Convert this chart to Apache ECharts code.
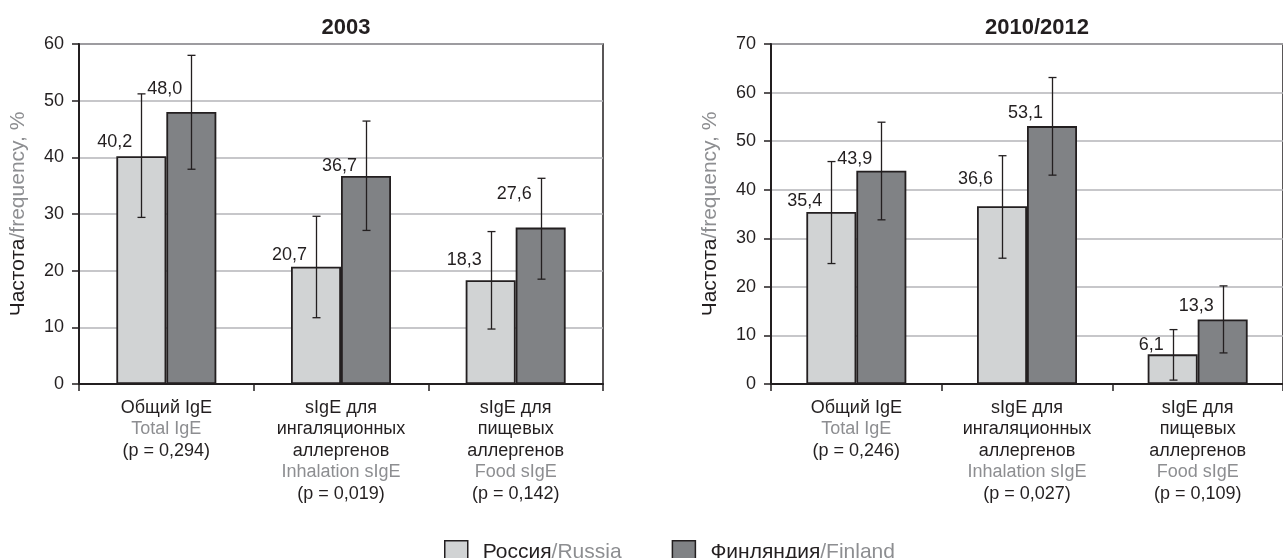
<!DOCTYPE html>
<html>
<head>
<meta charset="utf-8">
<script src="https://cdn.jsdelivr.net/npm/echarts@6/dist/echarts.min.js"></script>
<style>
  html, body { margin: 0; padding: 0; background: #ffffff; }
  #chart { width: 1283px; height: 558px; }
</style>
</head>
<body>
<div id="chart"></div>
<script>
// ---------------- DATA ----------------
const catRu = [['Общий IgE'], ['sIgE для', 'ингаляционных', 'аллергенов'], ['sIgE для', 'пищевых', 'аллергенов']];
const catEn = ['Total IgE', 'Inhalation sIgE', 'Food sIgE'];
const p2003 = ['0,294', '0,019', '0,142'];
const p2010 = ['0,246', '0,027', '0,109'];

const russia2003 = [40.2, 20.7, 18.3];
const finland2003 = [48.0, 36.7, 27.6];
const russia2003Low = [29.4, 11.7, 9.7];
const russia2003High = [51.2, 29.6, 26.9];
const finland2003Low = [37.9, 27.1, 18.5];
const finland2003High = [58.0, 46.4, 36.3];

const russia2010 = [35.4, 36.6, 6.1];
const finland2010 = [43.9, 53.1, 13.3];
const russia2010Low = [24.8, 25.9, 0.8];
const russia2010High = [45.8, 47.0, 11.2];
const finland2010Low = [33.8, 43.0, 6.4];
const finland2010High = [53.9, 63.1, 20.2];

const yTicks2003 = { min: 0, max: 60, interval: 10 };
const yTicks2010 = { min: 0, max: 70, interval: 10 };

const titles = ['2003', '2010/2012'];
const seriesNames = ['Россия', 'Финляндия'];
const seriesNamesEn = ['Russia', 'Finland'];
const axisTitleRu = 'Частота';
const axisTitleEn = '/frequency, %';

// ---------------- STYLE ----------------
const FONT = '"Liberation Sans", Arial, sans-serif';
const BLACK = '#231f20';
const GREY_TXT = '#8d8e91';
const C_RU = '#d1d3d4';
const C_FI = '#808285';
const GRIDLINE = '#b4b5b8';
const BAR_W = 50;
// per-label vertical lift (px) above the bar top, [chart][series][category]
const labelLift = [
  [[5, 3, 11], [14, 1, 25]],
  [[2, 18, 0], [3, 4, 4]]
];

function catLabels(p) {
  return catRu.map((lines, i) => {
    const ru = lines.map(l => '{a|' + l + '}').join('\n');
    return ru + '\n{b|' + catEn[i] + '}\n{a|(p = ' + p[i] + ')}';
  });
}
const fmt = v => v.toFixed(1).replace('.', ',');

const grids = [
  { left: 79, top: 44, width: 524, height: 340 },
  { left: 771, top: 44, width: 522, height: 340 }
];

function xAxis(idx, p) {
  return {
    type: 'category', gridIndex: idx, data: catLabels(p),
    axisLine: { lineStyle: { color: BLACK, width: 2 } },
    axisTick: { show: true, length: 7, inside: false, alignWithLabel: false, lineStyle: { color: BLACK, width: 1.5 } },
    axisLabel: {
      interval: 0, margin: 13, fontFamily: FONT, fontSize: 18, lineHeight: 21.5, color: BLACK,
      rich: {
        a: { fontFamily: FONT, fontSize: 18, lineHeight: 21.5, color: BLACK },
        b: { fontFamily: FONT, fontSize: 18, lineHeight: 21.5, color: GREY_TXT }
      }
    },
    splitLine: { show: false }
  };
}
function yAxis(idx, t) {
  return {
    type: 'value', gridIndex: idx, min: t.min, max: t.max, interval: t.interval,
    name: '{a|' + axisTitleRu + '}{b|' + axisTitleEn + '}',
    nameLocation: 'middle', nameGap: 50, nameRotate: 90,
    nameTextStyle: {
      rich: {
        a: { fontFamily: FONT, fontSize: 21, color: BLACK },
        b: { fontFamily: FONT, fontSize: 21, color: GREY_TXT }
      }
    },
    axisLine: { show: true, lineStyle: { color: BLACK, width: 2 } },
    axisTick: { show: true, length: 7, inside: false, lineStyle: { color: BLACK, width: 1.5 } },
    axisLabel: { margin: 15, fontFamily: FONT, fontSize: 18, color: BLACK },
    splitLine: { show: true, lineStyle: { color: GRIDLINE, width: 1.5 } }
  };
}

function barSeries(chartIdx, sIdx, values, color) {
  return {
    type: 'bar', name: seriesNames[sIdx], xAxisIndex: chartIdx, yAxisIndex: chartIdx,
    data: values.map((v, i) => ({
      value: v,
      label: { offset: [-9, -labelLift[chartIdx][sIdx][i]] }
    })),
    barWidth: BAR_W, barGap: '0%',
    itemStyle: { color: color, borderColor: BLACK, borderWidth: 1.8 },
    label: {
      show: true, position: 'top', distance: 0, align: 'right',
      fontFamily: FONT, fontSize: 18, color: BLACK,
      formatter: pr => fmt(pr.value)
    },
    emphasis: { disabled: true },
    z: 2
  };
}

function errSeries(chartIdx, sIdx, lows, highs) {
  const dx = sIdx === 0 ? -BAR_W / 2 : BAR_W / 2;
  return {
    type: 'custom', xAxisIndex: chartIdx, yAxisIndex: chartIdx,
    data: lows.map((lo, i) => [i, lo, highs[i]]),
    renderItem: (params, api) => {
      const lo = api.coord([api.value(0), api.value(1)]);
      const hi = api.coord([api.value(0), api.value(2)]);
      const x = Math.round(lo[0] + dx) + 0.5;
      const cap = 4;
      const st = { stroke: BLACK, lineWidth: 1.3 };
      return {
        type: 'group',
        children: [
          { type: 'line', shape: { x1: x, y1: lo[1], x2: x, y2: hi[1] }, style: st },
          { type: 'line', shape: { x1: x - cap, y1: lo[1], x2: x + cap, y2: lo[1] }, style: st },
          { type: 'line', shape: { x1: x - cap, y1: hi[1], x2: x + cap, y2: hi[1] }, style: st }
        ]
      };
    },
    silent: true,
    z: 5
  };
}

const option = {
  backgroundColor: '#ffffff',
  animation: false,
  title: [
    { text: titles[0], left: grids[0].left + grids[0].width / 2, top: 12, textAlign: 'center',
      textStyle: { fontFamily: FONT, fontSize: 22, fontWeight: 'bold', color: BLACK } },
    { text: titles[1], left: grids[1].left + 261, top: 12, textAlign: 'center',
      textStyle: { fontFamily: FONT, fontSize: 22, fontWeight: 'bold', color: BLACK } }
  ],
  grid: grids.map(g => Object.assign({ show: true, borderColor: BLACK, borderWidth: 1.5, backgroundColor: 'transparent' }, g)),
  legend: {
    data: seriesNames,
    left: 439, top: 535,
    itemWidth: 23, itemHeight: 22, itemGap: 50,
    icon: 'rect',
    itemStyle: { borderColor: BLACK, borderWidth: 1.5 },
    formatter: name => {
      const i = seriesNames.indexOf(name);
      return '{a|' + name + '}{b|/' + seriesNamesEn[i] + '}';
    },
    textStyle: {
      rich: {
        a: { fontFamily: FONT, fontSize: 21, color: BLACK, padding: [0, 0, 0, 10] },
        b: { fontFamily: FONT, fontSize: 21, color: GREY_TXT }
      }
    },
    selectedMode: false
  },
  xAxis: [xAxis(0, p2003), xAxis(1, p2010)],
  yAxis: [yAxis(0, yTicks2003), yAxis(1, yTicks2010)],
  series: [
    barSeries(0, 0, russia2003, C_RU),
    barSeries(0, 1, finland2003, C_FI),
    barSeries(1, 0, russia2010, C_RU),
    barSeries(1, 1, finland2010, C_FI),
    errSeries(0, 0, russia2003Low, russia2003High),
    errSeries(0, 1, finland2003Low, finland2003High),
    errSeries(1, 0, russia2010Low, russia2010High),
    errSeries(1, 1, finland2010Low, finland2010High)
  ]
};

const chart = echarts.init(document.getElementById('chart'), null, { renderer: 'canvas' });
chart.setOption(option);
</script>
</body>
</html>
